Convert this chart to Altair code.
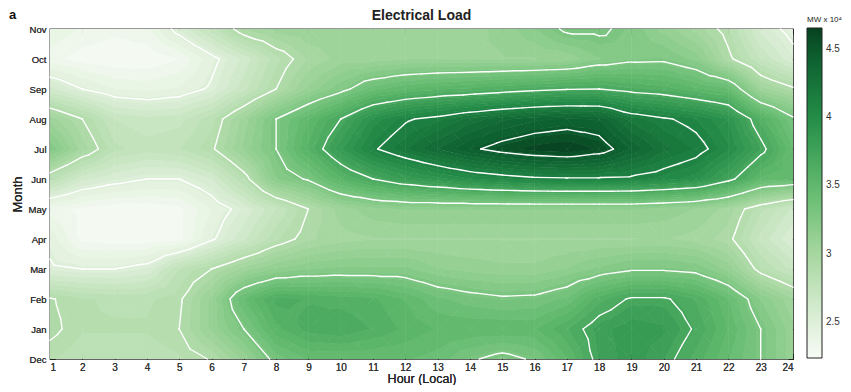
import altair as alt
import numpy as np
import pandas as pd

# ---------------- data (x 10^4 MW) ----------------
hours = list(range(1, 25))
months = ["Dec", "Jan", "Feb", "Mar", "Apr", "May", "Jun", "Jul", "Aug", "Sep", "Oct", "Nov"]

load_dec = [2.85, 2.80, 2.80, 2.80, 2.83, 2.91, 3.10, 3.35, 3.45, 3.45, 3.45, 3.45, 3.42, 3.32, 3.25, 3.32, 3.50, 3.75, 3.85, 3.75, 3.60, 3.45, 3.30, 3.10]
load_jan = [2.93, 2.85, 2.85, 2.85, 2.90, 3.10, 3.30, 3.55, 3.65, 3.68, 3.62, 3.55, 3.50, 3.50, 3.50, 3.50, 3.62, 3.78, 3.85, 3.82, 3.68, 3.50, 3.30, 3.10]
load_feb = [2.91, 2.85, 2.83, 2.83, 2.88, 3.10, 3.45, 3.65, 3.62, 3.60, 3.58, 3.50, 3.40, 3.35, 3.32, 3.33, 3.40, 3.60, 3.72, 3.72, 3.62, 3.45, 3.20, 3.03]
load_mar = [2.52, 2.50, 2.50, 2.55, 2.78, 2.90, 3.05, 3.15, 3.20, 3.22, 3.22, 3.22, 3.15, 3.12, 3.10, 3.10, 3.15, 3.22, 3.28, 3.28, 3.25, 3.12, 2.85, 2.70]
load_apr = [2.46, 2.28, 2.26, 2.26, 2.28, 2.48, 2.65, 2.83, 2.95, 3.00, 3.02, 3.02, 3.02, 3.02, 3.02, 3.02, 3.02, 3.02, 3.02, 3.03, 3.00, 2.93, 2.70, 2.55]
load_may = [2.33, 2.28, 2.25, 2.25, 2.28, 2.42, 2.55, 2.72, 2.90, 3.05, 3.12, 3.15, 3.15, 3.15, 3.15, 3.15, 3.15, 3.15, 3.15, 3.12, 3.08, 3.00, 2.80, 2.65]
load_jun = [2.81, 2.62, 2.55, 2.50, 2.50, 2.60, 2.84, 3.20, 3.32, 3.55, 3.70, 3.82, 3.90, 3.98, 4.03, 4.07, 4.08, 4.08, 4.07, 4.02, 3.95, 3.75, 3.50, 3.45]
load_jul = [3.25, 3.00, 2.80, 2.75, 2.78, 2.88, 3.10, 3.30, 3.58, 3.85, 4.08, 4.22, 4.35, 4.47, 4.56, 4.62, 4.65, 4.58, 4.40, 4.25, 4.16, 4.00, 3.75, 3.45]
load_aug = [3.06, 2.90, 2.72, 2.68, 2.70, 2.82, 3.05, 3.30, 3.50, 3.70, 3.95, 4.08, 4.15, 4.25, 4.33, 4.39, 4.42, 4.40, 4.20, 4.12, 4.05, 3.92, 3.60, 3.33]
load_sep = [2.62, 2.50, 2.42, 2.40, 2.43, 2.52, 2.70, 2.90, 3.10, 3.25, 3.42, 3.50, 3.55, 3.58, 3.62, 3.66, 3.69, 3.70, 3.64, 3.60, 3.52, 3.45, 3.05, 2.92]
load_oct = [2.32, 2.27, 2.25, 2.25, 2.30, 2.46, 2.62, 2.82, 2.97, 3.05, 3.05, 3.08, 3.08, 3.08, 3.08, 3.08, 3.10, 3.20, 3.26, 3.27, 3.18, 2.93, 2.72, 2.55]
load_nov = [2.42, 2.35, 2.32, 2.35, 2.55, 2.75, 2.97, 3.05, 3.08, 3.08, 3.08, 3.08, 3.06, 3.06, 3.10, 3.20, 3.33, 3.33, 3.25, 3.12, 3.00, 2.85, 2.58, 2.45]

contour_levels = [2.5, 2.9, 3.3, 3.7, 4.1, 4.5]
colorbar_ticks = [2.5, 3, 3.5, 4, 4.5]
color_stops = [2.24, 2.5, 3.0, 3.5, 4.0, 4.5, 4.65]
stop_colors = ["#f7fbf5", "#dff0da", "#a6d79f", "#5fb96c", "#238c47", "#0a5a2c", "#07401f"]
n_fill_bands = 40

rows = [load_dec, load_jan, load_feb, load_mar, load_apr, load_may,
        load_jun, load_jul, load_aug, load_sep, load_oct, load_nov]

# ---------------- geometry of the filled contour plot ----------------
Z = np.array(rows, dtype=float)
band_edges = np.linspace(color_stops[0], color_stops[-1], n_fill_bands + 1)


def triangles():
    for i in range(Z.shape[0] - 1):
        for j in range(Z.shape[1] - 1):
            A = (hours[j], i, Z[i, j])
            B = (hours[j + 1], i, Z[i, j + 1])
            C = (hours[j + 1], i + 1, Z[i + 1, j + 1])
            D = (hours[j], i + 1, Z[i + 1, j])
            E = (hours[j] + 0.5, i + 0.5, (A[2] + B[2] + C[2] + D[2]) / 4.0)
            for tri in ((A, B, E), (B, C, E), (C, D, E), (D, A, E)):
                yield tri


def clip(poly, sign, lev):
    out = []
    n = len(poly)
    for k in range(n):
        P, Q = poly[k], poly[(k + 1) % n]
        fp, fq = sign * (P[2] - lev), sign * (Q[2] - lev)
        if fp >= 0:
            out.append(P)
        if (fp >= 0) != (fq >= 0):
            t = fp / (fp - fq)
            out.append(tuple(P[m] + t * (Q[m] - P[m]) for m in range(3)))
    return out


band_rows = []
seg_rows = []
pid = 0
for tri in triangles():
    vmin = min(p[2] for p in tri)
    vmax = max(p[2] for p in tri)
    for b in range(n_fill_bands):
        lo, hi = band_edges[b], band_edges[b + 1]
        if b == 0:
            lo = -1e9
        if b == n_fill_bands - 1:
            hi = 1e9
        if hi < vmin or lo > vmax:
            continue
        poly = clip(list(tri), 1, lo)
        if len(poly) >= 3:
            poly = clip(poly, -1, hi)
        if len(poly) < 3:
            continue
        xs = sorted(set(p[0] for p in poly))
        merged = []
        for x in xs:
            if not merged or x - merged[-1] > 1e-7:
                merged.append(x)
        if len(merged) < 2:
            continue
        mid = 0.5 * (band_edges[b] + band_edges[b + 1])
        out = []
        for x in merged:
            ys = []
            for k in range(len(poly)):
                P, Q = poly[k], poly[(k + 1) % len(poly)]
                if min(P[0], Q[0]) - 1e-6 <= x <= max(P[0], Q[0]) + 1e-6:
                    if abs(Q[0] - P[0]) < 1e-6:
                        ys += [P[1], Q[1]]
                    else:
                        t = min(max((x - P[0]) / (Q[0] - P[0]), 0.0), 1.0)
                        ys.append(P[1] + t * (Q[1] - P[1]))
            if ys:
                out.append({"pid": pid, "x": round(x, 4), "ylo": round(min(ys), 4),
                            "yhi": round(max(ys), 4), "v": round(mid, 4)})
        if len(out) >= 2:
            band_rows += out
            pid += 1
    # contour lines through the same triangles
    for lev in contour_levels:
        pts = []
        for k in range(3):
            P, Q = tri[k], tri[(k + 1) % 3]
            if (P[2] >= lev) != (Q[2] >= lev):
                t = (lev - P[2]) / (Q[2] - P[2])
                pts.append((P[0] + t * (Q[0] - P[0]), P[1] + t * (Q[1] - P[1])))
        if len(pts) == 2:
            seg_rows.append({"x": round(pts[0][0], 4), "y": round(pts[0][1], 4),
                             "x2": round(pts[1][0], 4), "y2": round(pts[1][1], 4), "level": lev})

band_df = pd.DataFrame(band_rows)
seg_df = pd.DataFrame(seg_rows)

FONT = "Liberation Sans"
W, H = 743, 330

xscale = alt.Scale(domain=[1, 24], nice=False, zero=False)
yscale = alt.Scale(domain=[0, 11], nice=False, zero=False)
cscale = alt.Scale(domain=color_stops, range=stop_colors, interpolate="rgb")

month_expr = "[" + ",".join("'%s'" % m for m in months) + "][datum.value]"

x_axis = alt.Axis(values=hours, orient="bottom", offset=-5, tickSize=5, domain=False, grid=False,
                  labelFontSize=10, labelColor="#333", labelPadding=3, tickColor="#222",
                  title="Hour (Local)", titleFontSize=12.5, titleFontWeight="normal",
                  titleColor="#222", titleBaseline="alphabetic", titleY=28,
                  labelFont=FONT, titleFont=FONT)
y_axis = alt.Axis(values=list(range(12)), labelExpr=month_expr, orient="left", offset=-5, tickSize=5,
                  domain=False, grid=False, labelFontSize=9.5, labelColor="#333", labelPadding=4,
                  tickColor="#222", title="Month", titleFontSize=13, titleFontWeight="normal",
                  titleColor="#222", titlePadding=4, labelFont=FONT, titleFont=FONT)

legend = alt.Legend(type="gradient", orient="none", legendX=757, legendY=-13,
                    direction="vertical", gradientLength=330, gradientThickness=15,
                    gradientStrokeColor="#222", gradientStrokeWidth=1,
                    values=colorbar_ticks, format="~g", labelFontSize=10, labelColor="#333",
                    labelFont=FONT, labelOffset=4, title="MW x 10⁴", titleFontSize=8,
                    titleFontWeight="normal", titleColor="#222", titleFont=FONT,
                    titlePadding=4)

base_fill = alt.Chart(band_df).mark_area(interpolate="linear").encode(
    x=alt.X("x:Q", scale=xscale, axis=x_axis),
    y=alt.Y("ylo:Q", scale=yscale, axis=y_axis),
    y2="yhi:Q",
    detail="pid:N",
    color=alt.Color("v:Q", scale=cscale, legend=legend),
)
# painted twice so the anti-aliased seams between neighbouring bands close up
fill_again = base_fill

lines = alt.Chart(seg_df).mark_rule(color="white", strokeWidth=1.4, strokeCap="round").encode(
    x=alt.X("x:Q", scale=xscale,
            axis=alt.Axis(values=hours, orient="top", offset=-5, tickSize=5, domain=False, grid=False,
                          labels=False, tickColor="#222", title="")),
    x2="x2:Q",
    y=alt.Y("y:Q", scale=yscale,
            axis=alt.Axis(values=list(range(12)), orient="right", offset=-5, tickSize=5, domain=False,
                          grid=False, labels=False, tickColor="#222", title="")),
    y2="y2:Q",
)

panel = alt.Chart(pd.DataFrame({"t": ["a"]})).mark_text(
    font=FONT, fontSize=13, fontWeight="bold", align="left", baseline="middle", color="#111"
).encode(text="t:N", x=alt.value(-41), y=alt.value(-14))

title = alt.Chart(pd.DataFrame({"t": ["Electrical Load"]})).mark_text(
    font=FONT, fontSize=14, fontWeight="bold", align="center", baseline="middle", color="#222"
).encode(text="t:N", x=alt.value(W / 2), y=alt.value(-13))

chart = alt.layer(base_fill, fill_again, lines, panel, title).resolve_axis(
    x="independent", y="independent"
).properties(
    width=W, height=H,
    autosize=alt.AutoSizeParams(type="none"),
    padding={"left": 42, "top": 21, "right": 50, "bottom": 26},
).configure_view(stroke="#333", strokeWidth=1.3)

chart.save("out.html", embed_options={"renderer": "svg", "actions": False})
